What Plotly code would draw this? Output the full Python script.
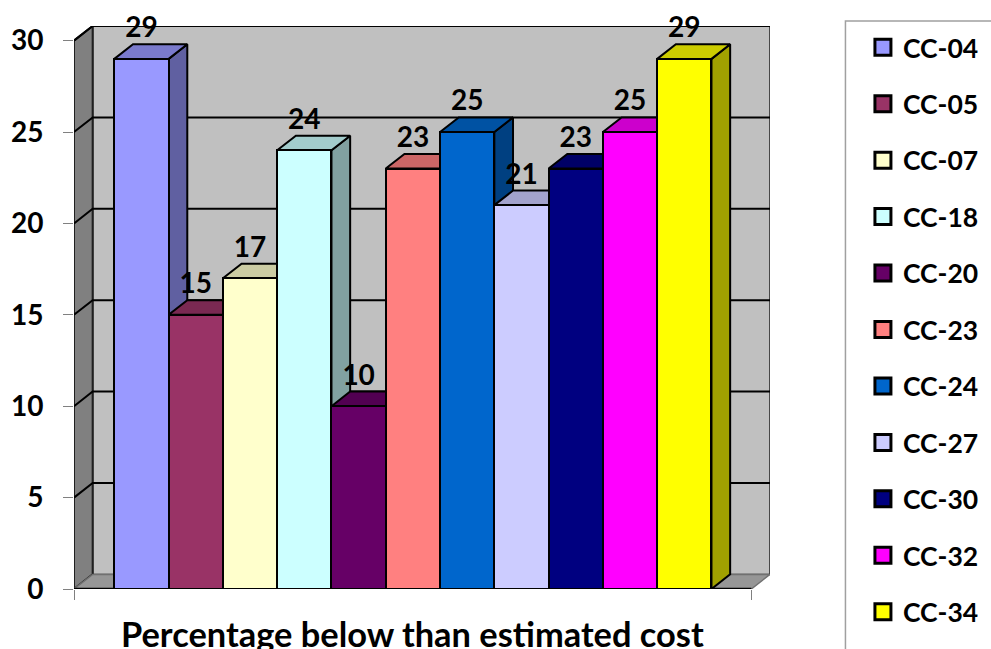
import plotly.graph_objects as go

# Series
contracts = ["CC-04", "CC-05", "CC-07", "CC-18", "CC-20", "CC-23",
             "CC-24", "CC-27", "CC-30", "CC-32", "CC-34"]
percent_below = [29, 15, 17, 24, 10, 23, 25, 21, 23, 25, 29]
bar_colors = ["#9999FF", "#993366", "#FFFFCC", "#CCFFFF", "#660066", "#FF8080",
              "#0066CC", "#CCCCFF", "#000080", "#FF00FF", "#FFFF00"]
y_ticks = [0, 5, 10, 15, 20, 25, 30]
x_title = "Percentage below than estimated cost"

# Pseudo-3D box, in axis units (one bar = one x unit)
FRONT_LEFT, FRONT_RIGHT = -1.243, 11.234
DEPTH_X, DEPTH_Y = 0.344, 0.80
X_RANGE = [FRONT_LEFT, FRONT_RIGHT + DEPTH_X]
Y_RANGE = [0, 30 + DEPTH_Y]

# Page layout in pixels
W, H = 991, 649
M_L, M_R, M_T, M_B = 73.5, 221, 25.5, 59.5
PLOT_W, PLOT_H = W - M_L - M_R, H - M_T - M_B
FONT = "Lato"


def shade(hex_color, k):
    r, g, b = (int(hex_color[i:i + 2], 16) for i in (1, 3, 5))
    return f"rgb({r * k:.0f},{g * k:.0f},{b * k:.0f})"


def polygon(xs, ys, fill, line="#000000", width=2):
    return go.Scatter(x=xs + xs[:1], y=ys + ys[:1], mode="lines", fill="toself",
                      fillcolor=fill, line=dict(color=line, width=width),
                      hoverinfo="skip", showlegend=False)


fig = go.Figure()

back_left = FRONT_LEFT + DEPTH_X
back_right = FRONT_RIGHT + DEPTH_X
top = 30 + DEPTH_Y

# Walls and floor
fig.add_trace(polygon([back_left, back_right, back_right, back_left],
                      [DEPTH_Y, DEPTH_Y, top, top], "#C0C0C0", "#202020", 1.5))
fig.add_trace(polygon([FRONT_LEFT, back_left, back_left, FRONT_LEFT],
                      [0, DEPTH_Y, top, 30], "#808080", "#202020", 2))
fig.add_trace(polygon([FRONT_LEFT, FRONT_RIGHT, back_right, back_left],
                      [0, 0, DEPTH_Y, DEPTH_Y], "#969696", "#707070", 1.5))
fig.add_trace(go.Scatter(x=[FRONT_LEFT, FRONT_RIGHT], y=[0, 0], mode="lines",
                         line=dict(color="#000000", width=2.5), cliponaxis=False,
                         hoverinfo="skip", showlegend=False))

# Gridlines run along the side wall and across the back wall
for t in y_ticks[1:]:
    fig.add_trace(go.Scatter(x=[FRONT_LEFT, back_left, back_right],
                             y=[t, t + DEPTH_Y, t + DEPTH_Y], mode="lines",
                             line=dict(color="#000000", width=2),
                             hoverinfo="skip", showlegend=False))

# Side and top faces, painted left to right so each bar covers its neighbour
for i, (v, c) in enumerate(zip(percent_below, bar_colors)):
    l, r = i - 0.5, i + 0.5
    fig.add_trace(polygon([r, r + DEPTH_X, r + DEPTH_X, r],
                          [0, DEPTH_Y, v + DEPTH_Y, v], shade(c, 0.63)))
    fig.add_trace(polygon([l, r, r + DEPTH_X, l + DEPTH_X],
                          [v, v, v + DEPTH_Y, v + DEPTH_Y], shade(c, 0.8)))

# Front faces sit on an overlaid pair of axes, above every side and top face
fig.add_trace(go.Bar(x=list(range(len(contracts))), y=percent_below, width=1,
                     marker=dict(color=bar_colors, line=dict(color="#000000", width=2)),
                     customdata=contracts, hovertemplate="%{customdata}: %{y}<extra></extra>",
                     xaxis="x2", yaxis="y2", showlegend=False))

# Value labels above the back edge of each bar
fig.add_trace(go.Scatter(x=list(range(len(contracts))),
                         y=[v + DEPTH_Y for v in percent_below],
                         text=[str(v) for v in percent_below],
                         mode="text", textposition="top center", cliponaxis=False,
                         textfont=dict(family=FONT, size=28, color="#000000", weight="bold"),
                         hoverinfo="skip", xaxis="x2", yaxis="y2", showlegend=False))

# Legend entries
for name, c in zip(contracts, bar_colors):
    fig.add_trace(go.Scatter(x=[None], y=[None], mode="markers", name=name,
                             legendgroup=name,
                             marker=dict(symbol="square", size=16, color=c,
                                         line=dict(color="#000000", width=3))))

fig.update_layout(
    width=W, height=H, autosize=False,
    margin=dict(l=M_L, r=M_R, t=M_T, b=M_B, autoexpand=False),
    paper_bgcolor="#FFFFFF", plot_bgcolor="#FFFFFF",
    barmode="overlay", bargap=0,
    font=dict(family=FONT, color="#000000"),
    xaxis=dict(range=X_RANGE, showgrid=False, zeroline=False, showline=False,
               tickmode="array", tickvals=[FRONT_LEFT, FRONT_RIGHT], ticktext=["", ""],
               ticks="outside", ticklen=10, tickcolor="#808080", tickwidth=1),
    yaxis=dict(range=Y_RANGE, showgrid=False, zeroline=False, showline=False,
               tickmode="array", tickvals=y_ticks, ticks="outside", ticklen=10,
               tickcolor="#808080", tickwidth=1, ticklabelstandoff=14,
               tickfont=dict(family=FONT, size=28, color="#000000", weight="bold")),
    xaxis2=dict(range=X_RANGE, overlaying="x", visible=False),
    yaxis2=dict(range=Y_RANGE, overlaying="y", visible=False),
    legend=dict(x=(863 - M_L) / PLOT_W, xanchor="left",
                y=1 - (23 - M_T) / PLOT_H, yanchor="top", maxheight=649,
                bgcolor="rgba(0,0,0,0)", borderwidth=0, tracegroupgap=19,
                itemsizing="trace", itemwidth=30,
                font=dict(family=FONT, size=26.5, color="#000000", weight="bold")),
    shapes=[dict(type="rect", xref="paper", yref="paper", layer="below",
                 x0=(845.5 - M_L) / PLOT_W, x1=(W + 20 - M_L) / PLOT_W,
                 y0=1 - (H + 20 - M_T) / PLOT_H, y1=1 - (20.5 - M_T) / PLOT_H,
                 line=dict(color="#A0A0A0", width=1.5), fillcolor="#FFFFFF")],
    annotations=[dict(text=x_title, xref="x", yref="paper",
                      x=(FRONT_LEFT + FRONT_RIGHT) / 2, y=1 - (634 - M_T) / PLOT_H,
                      xanchor="center", yanchor="middle", showarrow=False,
                      font=dict(family=FONT, size=34.4, color="#000000", weight="bold"))],
)

fig.write_html("out.html")
